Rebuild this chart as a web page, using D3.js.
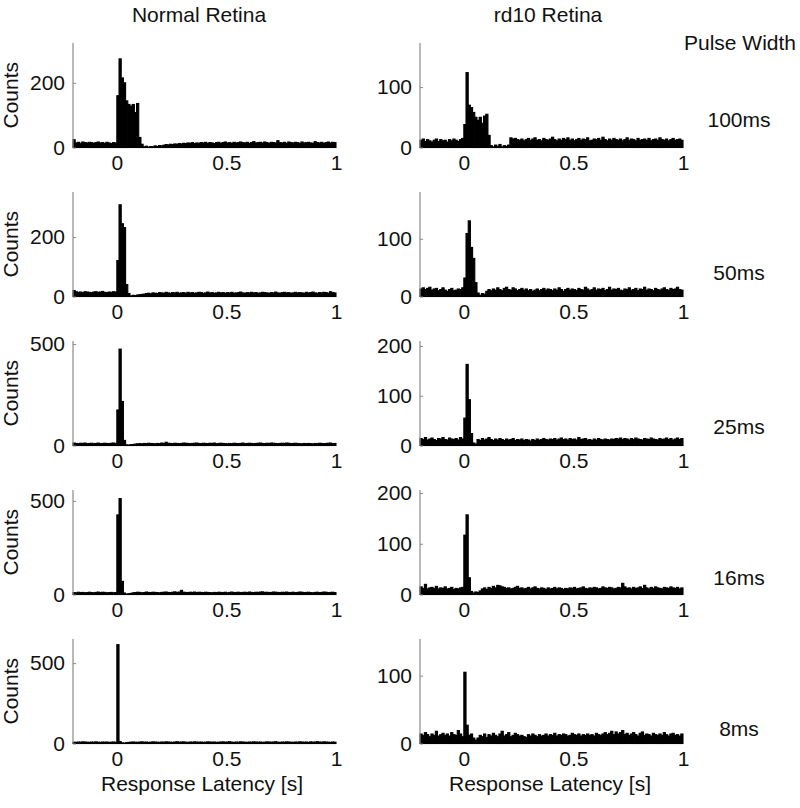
<!DOCTYPE html>
<html>
<head>
<meta charset="utf-8">
<script src="https://cdn.jsdelivr.net/npm/d3@7"></script>
<style>
  html, body { margin: 0; padding: 0; background: #fff; }
  svg text { font-family: "Liberation Sans", Arial, Helvetica, sans-serif; fill: #111; }
</style>
</head>
<body>
<svg id="chart" width="800" height="808"></svg>
<script>
// ---------------- DATA ----------------
const columnTitles = ["Normal Retina", "rd10 Retina"];
const pulseWidths = ["100ms", "50ms", "25ms", "16ms", "8ms"];
const legendTitle = "Pulse Width";
const xLabel = "Response Latency [s]";
const yLabel = "Counts";
const binStart = -0.2;
const binWidth = 0.01;
const xDomain = [-0.2, 1];
const xTicks = [0, 0.5, 1];
const xTickLabels = ["0", "0.5", "1"];

const yMaxNormal = [323, 352, 515, 558, 650];
const yMaxRd10 = [173, 181, 210, 206, 154];
const yTicksNormal = [[0, 200], [0, 200], [0, 500], [0, 500], [0, 500]];
const yTicksRd10 = [[0, 100], [0, 100], [0, 100, 200], [0, 100, 200], [0, 100]];

// Normal retina histograms (bins of 0.01 s from -0.2 s to 1 s)
const normal100 = [24,14,16,13,17,15,14,16,15,13,15,17,14,15,13,16,14,12,15,14,
  160,274,215,200,144,133,128,133,108,136,31,10,
  2,4,1,3,2,5,3,6,5,
  7,9,8,10,9,11,10,12,11,13, 12,14,13,15,12,14,13,15,14,16, 13,15,14,12,15,16,13,15,17,14,
  15,13,16,14,15,17,15,14,16,13, 15,18,14,15,16,14,17,15,13,16, 15,14,21,15,14,16,13,17,15,14,
  16,15,13,17,14,15,16,14,13,18, 15,14,16,13,15,17,14,16,15];
const normal50 = [20,16,14,15,13,16,15,14,13,15,16,14,15,17,14,13,15,14,16,15,
  121,309,245,232,40,10,
  2,4,3,5,6,7,8,
  10,11,9,12,11,10,13,12,11,14, 12,11,13,12,14,11,12,13,11,14, 12,13,11,12,14,13,11,12,15,12,
  13,11,12,14,12,13,11,13,12,14, 11,12,13,15,12,11,13,12,14,12, 13,11,12,14,13,12,11,13,12,15,
  12,11,13,14,12,13,11,12,14,12, 13,12,11,14,12,13,15,12,11,13, 12,14,13,11,16,13,12];
const normal25 = [12,10,9,11,10,12,9,10,11,9,10,12,9,10,11,10,9,11,12,10,
  175,475,217,25,
  3,2,4,5,
  7,8,9,8,10,9,11,10,9,8, 10,9,12,10,16,11,10,9,11,10, 9,10,12,11,10,9,10,11,12,10,
  9,11,10,9,11,10,12,9,10,11, 10,9,8,10,9,11,10,9,10,12, 9,10,11,10,9,10,11,12,10,9,
  11,10,12,11,10,9,10,11,10,12, 11,9,10,11,10,9,8,10,9,10, 9,8,10,9,11,10,9,10,11,12, 9,10];
const normal16 = [10,9,12,10,11,9,10,12,10,9,11,13,10,12,11,9,10,11,9,10,
  425,512,70,8,
  2,4,6,
  9,10,12,11,9,10,13,11,10,12, 11,10,9,11,12,13,11,10,12,14, 11,13,22,12,11,10,12,11,13,10,
  12,11,10,12,11,10,9,11,10,12, 11,10,12,9,11,13,10,11,12,10, 11,12,10,13,11,10,12,11,13,14,
  11,12,10,11,13,12,11,10,12,11, 13,10,11,12,10,11,13,12,10,11, 12,10,9,11,12,10,11,13,12,10, 11,12,10];
const normal8 = [8,7,9,8,10,9,8,7,9,8,10,8,7,9,8,9,7,8,9,8,
  615,
  12,4,3,5,
  7,8,9,8,7,9,10,8,9,7, 8,10,9,8,7,9,8,10,9,8, 7,9,11,8,9,10,8,7,9,8,
  10,9,8,9,7,8,10,9,8,9, 7,8,9,10,8,9,11,8,7,9, 8,10,9,8,7,9,8,10,9,8,
  9,7,8,10,9,8,9,11,8,7, 9,8,10,9,8,7,9,8,10,9, 8,9,7,10,8,9,11,9,8,10, 9,8,7,9,8];

// rd10 retina histograms
const rd100 = [12,14,10,13,11,9,12,14,10,13,11,12,9,13,11,14,12,10,13,15,
  38,124,70,66,58,50,45,50,40,52,55,20,
  3,1,4,2,5,1,3,2,4,
  16,14,15,13,12,14,11,13,15,12, 14,16,12,13,11,15,13,12,14,17, 13,11,14,12,15,13,16,12,14,11,
  13,15,12,14,13,16,11,12,14,13, 15,12,17,13,11,14,12,15,13,12, 14,11,13,16,12,14,13,11,15,12,
  13,14,12,15,11,13,14,12,16,13, 12,14,11,13,15,12,13,14,12];
const rd50 = [13,15,12,14,16,11,13,14,10,12,15,11,9,12,14,10,11,13,12,15,
  32,109,131,85,66,24,6,
  2,5,4,
  9,12,10,13,11,15,12,10,14,16, 12,11,15,13,10,12,14,11,13,10, 12,9,11,13,10,12,14,11,13,12,
  10,13,11,15,12,9,12,14,11,13, 12,10,14,12,11,16,13,10,12,15, 11,13,12,14,10,12,16,11,13,12,
  14,11,10,13,12,15,11,12,14,10, 13,12,16,11,13,12,10,14,12,11, 13,15,12,11,14,12,13,16,12,11];
const rd25 = [14,12,16,11,13,15,12,10,14,13,16,12,11,15,13,12,14,11,16,13,
  55,163,92,24,5,
  3,
  12,10,14,11,13,16,12,10,13,11, 14,12,10,13,11,12,14,10,12,11, 13,10,12,11,9,12,10,13,11,12,
  14,12,11,13,12,14,11,13,15,12, 13,11,14,12,13,11,16,12,13,14, 11,12,10,13,11,14,12,11,13,12,
  11,13,12,14,13,15,12,14,13,11, 14,12,15,13,12,11,14,13,12,15, 13,12,11,14,12,13,15,12,14,11, 13,15,12,14];
const rd16 = [15,12,20,11,13,14,12,16,11,13,12,15,11,12,14,10,12,11,13,14,
  117,157,33,6,
  3,5,4,7,
  11,13,10,14,12,16,13,18,17,15, 14,12,13,11,12,14,16,12,13,11, 12,14,11,13,15,12,11,13,12,10,
  13,11,12,14,11,13,12,10,12,11, 13,12,14,11,12,13,15,12,11,13, 12,14,13,11,12,15,13,12,14,13,
  11,12,14,13,22,15,12,13,11,14, 12,13,15,12,18,13,11,14,12,15, 13,12,11,14,13,12,15,13,12,14, 11,13];
const rd8 = [14,12,16,13,10,14,12,18,11,13,15,12,14,11,16,13,12,19,14,10,
  105,27,12,
  14,8,5,
  8,12,10,14,9,13,11,15,12,10, 14,18,11,13,16,10,12,15,13,11, 12,10,9,13,11,14,12,10,13,11,
  12,14,11,13,12,15,11,13,12,14, 13,11,12,15,13,12,14,11,13,12, 14,12,13,11,15,13,12,14,16,13,
  15,18,13,17,14,16,19,13,15,12, 14,16,13,11,15,17,12,14,13,11, 15,13,12,14,12,16,13,11,14,15, 12,13,11,14];

const normalSeries = [normal100, normal50, normal25, normal16, normal8];
const rd10Series = [rd100, rd50, rd25, rd16, rd8];

// ---------------- LAYOUT ----------------
const svg = d3.select("#chart");
const colX = [[73, 336], [420, 683]];
const rowTop0 = 43, rowStep = 149, panelH = 104.5;
const pulseLabelY = [120, 273, 427, 578, 729];
const fontSize = 21;

function drawPanel(col, row, values, yMax, yTicks) {
  const top = rowTop0 + rowStep * row;
  const bottom = top + panelH;
  const x = d3.scaleLinear().domain(xDomain).range(colX[col]);
  const y = d3.scaleLinear().domain([0, yMax]).range([bottom, top]);
  const g = svg.append("g");

  // bars
  g.selectAll("rect").data(values).enter().append("rect")
    .attr("x", (d, i) => x(binStart + i * binWidth))
    .attr("width", (d, i) => x(binStart + (i + 1) * binWidth) - x(binStart + i * binWidth))
    .attr("y", d => y(d))
    .attr("height", d => bottom - y(d))
    .attr("fill", "#000")
    .attr("stroke", "#000")
    .attr("stroke-width", 1.1);

  // y axis (MATLAB style: inward ticks, grey line)
  const yAxis = d3.axisLeft(y).tickValues(yTicks).tickSize(-3).tickPadding(8)
    .tickFormat(d3.format("d"));
  const ya = g.append("g").attr("transform", `translate(${colX[col][0]},0)`).call(yAxis);
  ya.select(".domain").attr("stroke", "#8a8a8a").attr("stroke-width", 1.2)
    .attr("d", `M0,${bottom}V${top}`);
  ya.selectAll(".tick line").attr("stroke", "#8a8a8a");
  ya.selectAll(".tick text").attr("font-size", fontSize).style("fill", "#111");

  // x axis (labels only; baseline hidden beneath bars)
  const xAxis = d3.axisBottom(x).tickValues(xTicks).tickSize(0).tickPadding(8)
    .tickFormat((d, i) => xTickLabels[i]);
  const xa = g.append("g").attr("transform", `translate(0,${bottom})`).call(xAxis);
  xa.select(".domain").remove();
  xa.selectAll(".tick text").attr("font-size", fontSize).style("fill", "#111");

  if (col === 0) {
    svg.append("text")
      .attr("transform", `translate(${18},${(top + bottom) / 2}) rotate(-90)`)
      .attr("text-anchor", "middle")
      .attr("font-size", fontSize)
      .text(yLabel);
  }
}

for (let r = 0; r < 5; r++) {
  drawPanel(0, r, normalSeries[r], yMaxNormal[r], yTicksNormal[r]);
  drawPanel(1, r, rd10Series[r], yMaxRd10[r], yTicksRd10[r]);
  svg.append("text").attr("x", 739).attr("y", pulseLabelY[r]).attr("dy", "0.35em")
    .attr("text-anchor", "middle").attr("font-size", fontSize).text(pulseWidths[r]);
}

// column titles
svg.append("text").attr("x", 199).attr("y", 15).attr("dy", "0.35em")
  .attr("text-anchor", "middle").attr("font-size", fontSize).text(columnTitles[0]);
svg.append("text").attr("x", 548).attr("y", 15).attr("dy", "0.35em")
  .attr("text-anchor", "middle").attr("font-size", fontSize).text(columnTitles[1]);
svg.append("text").attr("x", 740).attr("y", 43).attr("dy", "0.35em")
  .attr("text-anchor", "middle").attr("font-size", fontSize).text(legendTitle);

// x labels
svg.append("text").attr("x", 202).attr("y", 784).attr("dy", "0.35em")
  .attr("text-anchor", "middle").attr("font-size", fontSize).text(xLabel);
svg.append("text").attr("x", 550).attr("y", 784).attr("dy", "0.35em")
  .attr("text-anchor", "middle").attr("font-size", fontSize).text(xLabel);
</script>
</body>
</html>
